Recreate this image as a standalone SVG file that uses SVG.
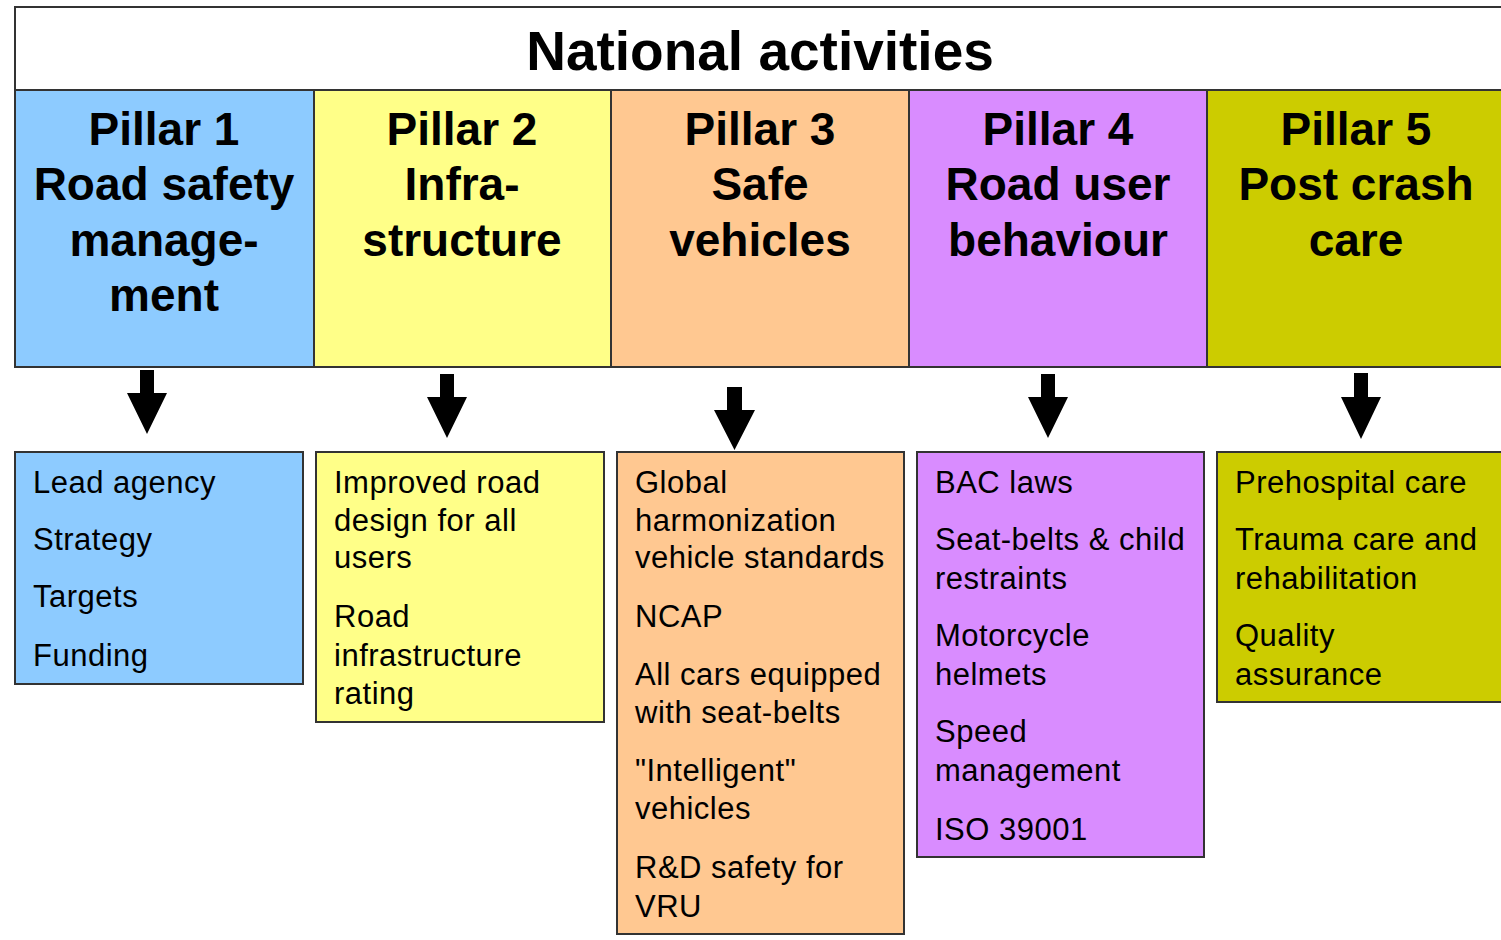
<svg xmlns="http://www.w3.org/2000/svg" width="1501" height="940" viewBox="0 0 1501 940">
<style>
.hd{stroke:#333;stroke-width:2}
.bx{stroke:#333;stroke-width:2}
.t{font-family:"Liberation Sans",Arial,sans-serif;font-weight:bold;font-size:46px;fill:#000;text-anchor:middle}
.b{font-family:"Liberation Sans",Arial,sans-serif;font-size:31px;letter-spacing:0.5px;fill:#000}
.p1{fill:#8DCBFF}.p2{fill:#FFFF88}.p3{fill:#FFC891}.p4{fill:#D98CFF}.p5{fill:#CCCC00}
.ar{fill:#000}
</style>
<rect width="1501" height="940" fill="#fff"/>
<g id="header">
<rect x="15" y="7" width="1500" height="83" fill="#fff" class="hd"/>
<text x="760" y="70" style="font-family:'Liberation Sans',Arial,sans-serif;font-weight:bold;font-size:55px;text-anchor:middle">National activities</text>
</g>
<g id="pillar1">
<rect x="15" y="90" width="299" height="277" class="p1 hd"/>
<text class="t"><tspan x="164" y="145">Pillar 1</tspan><tspan x="164" y="200">Road safety</tspan><tspan x="164" y="256">manage-</tspan><tspan x="164" y="311">ment</tspan></text>
</g>
<g id="pillar2">
<rect x="314" y="90" width="297" height="277" class="p2 hd"/>
<text class="t"><tspan x="462" y="145">Pillar 2</tspan><tspan x="462" y="200">Infra-</tspan><tspan x="462" y="256">structure</tspan></text>
</g>
<g id="pillar3">
<rect x="611" y="90" width="298" height="277" class="p3 hd"/>
<text class="t"><tspan x="760" y="145">Pillar 3</tspan><tspan x="760" y="200">Safe</tspan><tspan x="760" y="256">vehicles</tspan></text>
</g>
<g id="pillar4">
<rect x="909" y="90" width="298" height="277" class="p4 hd"/>
<text class="t"><tspan x="1058" y="145">Pillar 4</tspan><tspan x="1058" y="200">Road user</tspan><tspan x="1058" y="256">behaviour</tspan></text>
</g>
<g id="pillar5">
<rect x="1207" y="90" width="310" height="277" class="p5 hd"/>
<text class="t"><tspan x="1356" y="145">Pillar 5</tspan><tspan x="1356" y="200">Post crash</tspan><tspan x="1356" y="256">care</tspan></text>
</g>
<g id="connectors">
<polygon class="ar" points="140,370 154,370 154,393 167,393 147,434 127,393 140,393"/>
<polygon class="ar" points="440,374 454,374 454,397 467,397 447,438 427,397 440,397"/>
<polygon class="ar" points="727,387 742,387 742,410 755,410 734.5,450 714,410 727,410"/>
<polygon class="ar" points="1041,374 1055,374 1055,397 1068,397 1048,438 1028,397 1041,397"/>
<polygon class="ar" points="1354,373 1368,373 1368,397 1381,397 1361,439 1341,397 1354,397"/>
</g>
<g id="box1">
<rect x="15" y="452" width="288" height="232" class="p1 bx"/>
<text class="b"><tspan x="33" y="493">Lead agency</tspan><tspan x="33" y="550">Strategy</tspan><tspan x="33" y="607">Targets</tspan><tspan x="33" y="666">Funding</tspan></text>
</g>
<g id="box2">
<rect x="316" y="452" width="288" height="270" class="p2 bx"/>
<text class="b"><tspan x="334" y="493">Improved road</tspan><tspan x="334" y="531">design for all</tspan><tspan x="334" y="568">users</tspan><tspan x="334" y="627">Road</tspan><tspan x="334" y="666">infrastructure</tspan><tspan x="334" y="704">rating</tspan></text>
</g>
<g id="box3">
<rect x="617" y="452" width="287" height="482" class="p3 bx"/>
<text class="b"><tspan x="635" y="493">Global</tspan><tspan x="635" y="531">harmonization</tspan><tspan x="635" y="568">vehicle standards</tspan><tspan x="635" y="627">NCAP</tspan><tspan x="635" y="685">All cars equipped</tspan><tspan x="635" y="723">with seat-belts</tspan><tspan x="635" y="781">"Intelligent"</tspan><tspan x="635" y="819">vehicles</tspan><tspan x="635" y="878">R&amp;D safety for</tspan><tspan x="635" y="917">VRU</tspan></text>
</g>
<g id="box4">
<rect x="917" y="452" width="287" height="405" class="p4 bx"/>
<text class="b"><tspan x="935" y="493">BAC laws</tspan><tspan x="935" y="550">Seat-belts &amp; child</tspan><tspan x="935" y="589">restraints</tspan><tspan x="935" y="646">Motorcycle</tspan><tspan x="935" y="685">helmets</tspan><tspan x="935" y="742">Speed</tspan><tspan x="935" y="781">management</tspan><tspan x="935" y="840">ISO 39001</tspan></text>
</g>
<g id="box5">
<rect x="1217" y="452" width="300" height="250" class="p5 bx"/>
<text class="b"><tspan x="1235" y="493">Prehospital care</tspan><tspan x="1235" y="550">Trauma care and</tspan><tspan x="1235" y="589">rehabilitation</tspan><tspan x="1235" y="646">Quality</tspan><tspan x="1235" y="685">assurance</tspan></text>
</g>
</svg>
